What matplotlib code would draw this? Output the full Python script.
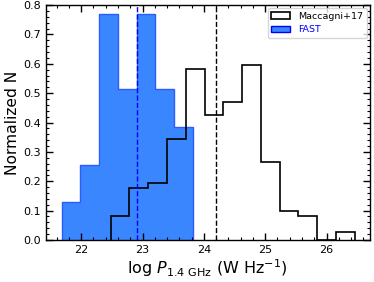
import numpy as np
import matplotlib
matplotlib.use("Agg")
import matplotlib.pyplot as plt
from matplotlib.ticker import MultipleLocator
from matplotlib.patches import Patch

# FAST histogram (normalized), 7 bins
fast_edges = np.linspace(21.68, 23.82, 8)
fast_heights = [0.128, 0.256, 0.769, 0.513, 0.769, 0.513, 0.385]

# Maccagni+17 histogram (normalized), 13 bins
macc_edges = np.linspace(22.48, 26.46, 14)
macc_heights = [0.081, 0.178, 0.194, 0.345, 0.583, 0.427, 0.469,
                0.595, 0.264, 0.097, 0.080, 0.0, 0.027]

fast_median = 22.91
macc_median = 24.20

fig = plt.figure(figsize=(3.74, 2.82), dpi=100)
ax = fig.add_axes([0.122, 0.149, 0.866, 0.833])

ax.stairs(fast_heights, fast_edges, fill=True, facecolor='#3a86ff', lw=0)
ax.stairs(fast_heights, fast_edges, color='#2a5cff', lw=1.0)
ax.stairs(macc_heights, macc_edges, color='k', lw=1.2)

ax.axvline(fast_median, color='b', ls='--', lw=1.0)
ax.axvline(macc_median, color='k', ls='--', lw=1.0)

ax.set_xlim(21.42, 26.70)
ax.set_ylim(0, 0.8)
ax.xaxis.set_major_locator(MultipleLocator(1))
ax.xaxis.set_minor_locator(MultipleLocator(0.2))
ax.yaxis.set_major_locator(MultipleLocator(0.1))
ax.yaxis.set_minor_locator(MultipleLocator(0.02))
ax.tick_params(which='both', direction='in', top=True, right=True, labelsize=8)
ax.tick_params(which='major', length=5, width=1)
ax.tick_params(which='minor', length=2.5, width=0.8)
for s in ax.spines.values():
    s.set_linewidth(1.0)

ax.set_xlabel(r'log $P_{1.4\ \rm GHz}$ (W Hz$^{-1}$)', fontsize=11.5, labelpad=2)
ax.set_ylabel('Normalized N', fontsize=11.2, labelpad=2)

handles = [Patch(facecolor='white', edgecolor='k', lw=1.2, label='Maccagni+17'),
           Patch(facecolor='#3a86ff', edgecolor='b', lw=1.0, label='FAST')]
leg = ax.legend(handles=handles, loc='upper right', fontsize=6.8, handlelength=2.0,
                borderaxespad=0.3)
leg.get_texts()[1].set_color('b')

fig.savefig('out.png', dpi=100)
